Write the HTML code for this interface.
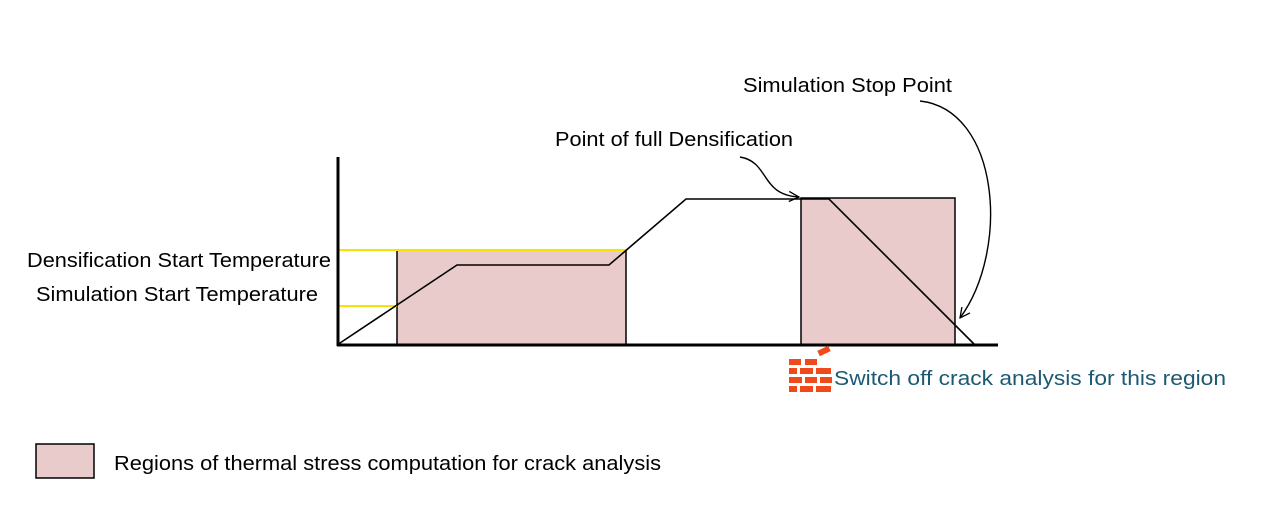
<!DOCTYPE html>
<html><head><meta charset="utf-8"><style>
html,body{margin:0;padding:0;background:#fff;}
svg{display:block;}
text{font-family:"Liberation Sans",Arial,sans-serif;font-size:20px;fill:#000;}
</style></head><body>
<svg width="1261" height="513" viewBox="0 0 1261 513" xmlns="http://www.w3.org/2000/svg">
<defs>
<marker id="ah" viewBox="0 0 12 12" refX="11" refY="6" markerWidth="12" markerHeight="12" markerUnits="userSpaceOnUse" orient="auto">
<path d="M1,1 L11,6 L1,11" fill="none" stroke="#000" stroke-width="1.3"/>
</marker>
</defs>
<rect x="397" y="250" width="229" height="95" fill="#e9cbcc" stroke="#000" stroke-width="1.5"/>
<rect x="801" y="198" width="154" height="147" fill="#e9cbcc" stroke="#000" stroke-width="1.5"/>
<line x1="337" y1="250" x2="627" y2="250" stroke="#f5e400" stroke-width="2"/>
<line x1="337" y1="306" x2="397" y2="306" stroke="#f5e400" stroke-width="2"/>
<polyline points="337,345 457,265 609,265 686,199 829,199 975,345" fill="none" stroke="#000" stroke-width="1.6"/>
<line x1="338" y1="157" x2="338" y2="346" stroke="#000" stroke-width="3"/>
<line x1="337" y1="345" x2="998" y2="345" stroke="#000" stroke-width="3"/>
<path d="M740,157 C770,162 760,195 799,197" fill="none" stroke="#000" stroke-width="1.4" marker-end="url(#ah)"/>
<path d="M920,101 C1000,110 1010,250 960,318" fill="none" stroke="#000" stroke-width="1.4" marker-end="url(#ah)"/>
<text x="27" y="267" textLength="304" lengthAdjust="spacingAndGlyphs">Densification Start Temperature</text>
<text x="36" y="301" textLength="282" lengthAdjust="spacingAndGlyphs">Simulation Start Temperature</text>
<text x="555" y="146" textLength="238" lengthAdjust="spacingAndGlyphs">Point of full Densification</text>
<text x="743" y="92" textLength="209" lengthAdjust="spacingAndGlyphs">Simulation Stop Point</text>
<text x="834" y="385" textLength="392" lengthAdjust="spacingAndGlyphs" style="fill:#1c5a74">Switch  off crack analysis  for this region</text>
<g fill="#f04a1c">
<rect x="789" y="359" width="12" height="6"/><rect x="805" y="359" width="12" height="6"/>
<rect x="789" y="368" width="8" height="6"/><rect x="800" y="368" width="13" height="6"/><rect x="816" y="368" width="15" height="6"/>
<rect x="789" y="377" width="13" height="6"/><rect x="805" y="377" width="12" height="6"/><rect x="820" y="377" width="12" height="6"/>
<rect x="789" y="386" width="8" height="6"/><rect x="800" y="386" width="13" height="6"/><rect x="816" y="386" width="15" height="6"/>
<rect x="818" y="348" width="12" height="6" transform="rotate(-25 824 351)"/>
</g>
<rect x="36" y="444" width="58" height="34" fill="#e9cbcc" stroke="#000" stroke-width="1.5"/>
<text x="114" y="470" textLength="547" lengthAdjust="spacingAndGlyphs">Regions of thermal stress computation for crack analysis</text>
</svg>
</body></html>
